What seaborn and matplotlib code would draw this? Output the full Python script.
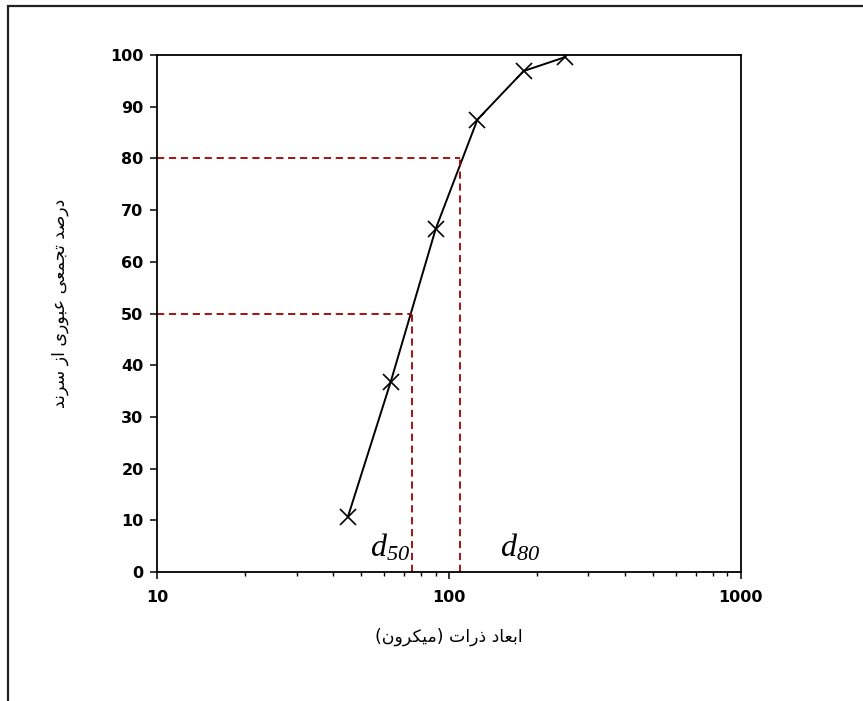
import matplotlib
matplotlib.use('Agg')
import matplotlib.pyplot as plt
import matplotlib.patches as mpatches
import seaborn as sns
import pandas as pd

sns.set_style('ticks')
plt.rcParams['font.family'] = ['DejaVu Sans']
plt.rcParams['mathtext.fontset'] = 'custom'
plt.rcParams['mathtext.it'] = 'Liberation Serif:italic'
plt.rcParams['mathtext.rm'] = 'Liberation Serif:italic'
plt.rcParams['text.color'] = 'black'
plt.rcParams['axes.labelcolor'] = 'black'
plt.rcParams['xtick.color'] = 'black'
plt.rcParams['ytick.color'] = 'black'

# داده‌ها: اندازه الک (میکرون) و درصد تجمعی عبوری
sieve_size = [45, 63, 90, 125, 180, 250]
passing_pct = [10.7, 36.7, 66.4, 87.5, 96.9, 99.6]
d_labels = ['50', '80']
d_pct = [50, 80]
d_size = [74.4, 109]
y_ticks = [0, 10, 20, 30, 40, 50, 60, 70, 80, 90, 100]
x_ticks = [10, 100, 1000]
x_label = 'ابعاد ذرات (میکرون)'
y_label = 'درصد تجمعی عبوری از سرند'

# شکل‌دهی ساده حروف فارسی (matplotlib حروف را به هم وصل نمی‌کند)
FORMS = {
    'ا': ('\uFE8D', '\uFE8E', None, None),
    'ب': ('\uFE8F', '\uFE90', '\uFE91', '\uFE92'),
    'ت': ('\uFE95', '\uFE96', '\uFE97', '\uFE98'),
    'ج': ('\uFE9D', '\uFE9E', '\uFE9F', '\uFEA0'),
    'د': ('\uFEA9', '\uFEAA', None, None),
    'ذ': ('\uFEAB', '\uFEAC', None, None),
    'ر': ('\uFEAD', '\uFEAE', None, None),
    'ز': ('\uFEAF', '\uFEB0', None, None),
    'س': ('\uFEB1', '\uFEB2', '\uFEB3', '\uFEB4'),
    'ص': ('\uFEB9', '\uFEBA', '\uFEBB', '\uFEBC'),
    'ع': ('\uFEC9', '\uFECA', '\uFECB', '\uFECC'),
    'ک': ('\uFB8E', '\uFB8F', '\uFB90', '\uFB91'),
    'م': ('\uFEE1', '\uFEE2', '\uFEE3', '\uFEE4'),
    'ن': ('\uFEE5', '\uFEE6', '\uFEE7', '\uFEE8'),
    'و': ('\uFEED', '\uFEEE', None, None),
    'ی': ('\uFBFC', '\uFBFD', '\uFBFE', '\uFBFF'),
}


def fa(text):
    out = []
    for i, ch in enumerate(text):
        if ch not in FORMS:
            out.append(ch)
            continue
        prev = text[i - 1] if i > 0 else ''
        nxt = text[i + 1] if i + 1 < len(text) else ''
        join_prev = prev in FORMS and FORMS[prev][2] is not None
        join_next = nxt in FORMS and FORMS[ch][2] is not None
        iso, fin, ini, med = FORMS[ch]
        if join_prev and join_next:
            out.append(med)
        elif join_prev:
            out.append(fin)
        elif join_next:
            out.append(ini)
        else:
            out.append(iso)
    s = ''.join(reversed(out))
    return s.translate(str.maketrans('()', ')('))


df = pd.DataFrame({'size': sieve_size, 'pct': passing_pct})

fig = plt.figure(figsize=(8.63, 7.01), dpi=100)
ax = fig.add_axes([0.1824, 0.184, 0.6760, 0.7375])

sns.lineplot(data=df, x='size', y='pct', ax=ax, color='black', lw=1.4,
             marker='x', markersize=12, markeredgecolor='black',
             markeredgewidth=1.2)

red = '#9E0000'
for lab, p, d in zip(d_labels, d_pct, d_size):
    ax.plot([10, d], [p, p], color=red, lw=1.3, dashes=(4, 2.6))
    ax.plot([d, d], [0, p], color=red, lw=1.3, dashes=(4, 2.6))

ax.text(d_size[0] * 0.985, 4.6, r'$d_{' + d_labels[0] + '}$',
        fontsize=23, ha='right', va='center')
ax.text(d_size[1] * 1.37, 4.6, r'$d_{' + d_labels[1] + '}$',
        fontsize=23, ha='left', va='center')

ax.set_xscale('log')
ax.set_xlim(10, 1000)
ax.set_ylim(0, 100)
ax.set_xticks(x_ticks)
ax.set_xticklabels([str(t) for t in x_ticks])
ax.set_yticks(y_ticks)
ax.set_yticklabels([str(t) for t in y_ticks])
for lbl in ax.get_xticklabels() + ax.get_yticklabels():
    lbl.set_fontweight('bold')
    lbl.set_fontsize(11.5)
ax.tick_params(axis='both', which='major', direction='out', length=5,
               width=1.1, color='black', pad=5)
ax.tick_params(axis='x', which='minor', direction='out', length=3,
               width=1.0, color='black')
ax.tick_params(axis='x', which='major', pad=8)

for sp in ax.spines.values():
    sp.set_visible(True)
    sp.set_color('black')
    sp.set_linewidth(1.3)

ax.set_xlabel(fa(x_label), fontsize=12.5, labelpad=16)
ax.set_ylabel(fa(y_label), fontsize=12.5)
ax.yaxis.set_label_coords(-0.151, 0.52)

# قاب بیرونی
fig.patches.append(mpatches.Rectangle((0.0093, -0.05), 1.2, 1.0414,
                                      transform=fig.transFigure, fill=False,
                                      edgecolor='#222222', lw=1.6,
                                      clip_on=False))

fig.savefig('out.png', dpi=100)
